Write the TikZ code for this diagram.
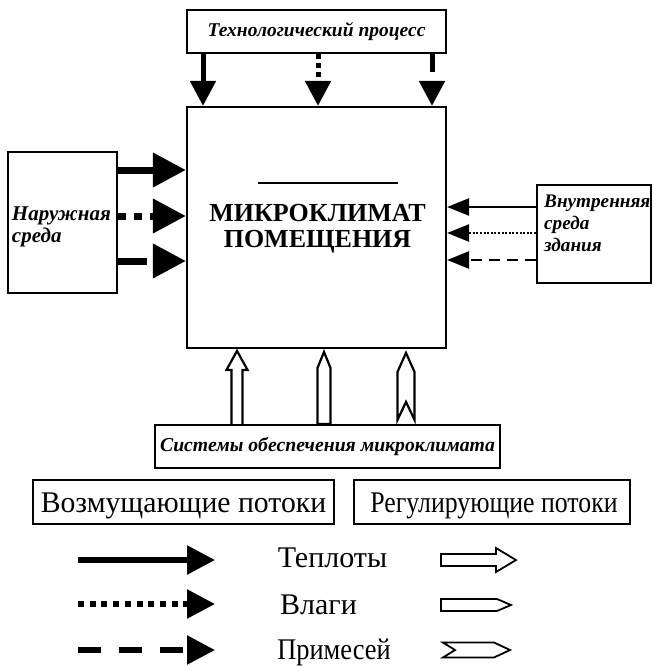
\documentclass[tikz,border=0pt]{standalone}
\usepackage{fontspec}
\setmainfont{Liberation Serif}
\usetikzlibrary{arrows.meta}
\newcommand\myfs[2]{\fontsize{#1}{#2}\selectfont}
\begin{document}
\begin{tikzpicture}[x=1pt,y=-1pt,
  box/.style={draw, line width=2.2pt, inner sep=0pt},
  bi/.style={font=\myfs{19.5}{23}\bfseries\itshape},
  fat/.style={line width=7pt, -{Triangle[length=33pt,width=33pt]}},
  mid/.style={line width=5pt, -{Triangle[length=25pt,width=25pt]}},
  thin/.style={line width=2.5pt, -{Triangle[length=22pt,width=17pt]}},
  leg/.style={line width=5.5pt, -{Triangle[length=28pt,width=28pt]}},
  hollow/.style={draw, line width=2.2pt, fill=white, line join=miter},
  legtxt/.style={font=\myfs{30}{30}, inner sep=0pt, anchor=base}
]
\useasboundingbox (0,0) rectangle (653,666);

% boxes
\node[box, minimum width=259pt, minimum height=241pt] (M) at (316.5,227.5) {};
\node[align=center, inner sep=0pt, font=\myfs{26}{26}\bfseries] (Mt) at (317.5,229) {МИКРОКЛИМАТ\\ПОМЕЩЕНИЯ};
\node[box, minimum width=259pt, minimum height=43pt, bi] (T) at (316.5,31.5) {Технологический процесс};
\node[box, minimum width=109pt, minimum height=141pt] (L) at (62.5,222.5) {};
\node[text width=102pt, align=left, inner sep=0pt, font=\myfs{21}{22}\bfseries\itshape] (Lt) at (63,227) {Наружная\\среда};
\node[box, minimum width=114pt, minimum height=98pt] (R) at (594,234) {};
\node[anchor=north west, align=left, inner sep=0pt, font=\myfs{19.2}{22}\bfseries\itshape] (Rt) at (544,195) {Внутренняя\\среда\\здания};
\node[box, minimum width=345pt, minimum height=43pt, font=\myfs{19.7}{23}\bfseries\itshape] (S) at (327.5,446.5) {Системы обеспечения микроклимата};

\draw[line width=1.5pt] (258,183) -- (398,183);

% top arrows
\coordinate (t1) at (203,0);
\coordinate (t2) at (318,0);
\coordinate (t3) at (432,0);
\draw[mid] (t1 |- T.south) -- (t1 |- M.north);
\draw[mid, dash pattern=on 5pt off 4pt] (t2 |- T.south) -- (t2 |- M.north);
\draw[mid, dash pattern=on 18pt off 60pt] (t3 |- T.south) -- (t3 |- M.north);

% left arrows
\coordinate (l1) at (0,170);
\coordinate (l2) at (0,216);
\coordinate (l3) at (0,261);
\draw[fat] (L.east |- l1) -- (M.west |- l1);
\draw[fat, dash pattern=on 8pt off 8pt] (L.east |- l2) -- (M.west |- l2);
\draw[fat, dash pattern=on 29pt off 60pt] (L.east |- l3) -- (M.west |- l3);

% right arrows
\coordinate (r1) at (0,207);
\coordinate (r2) at (0,233);
\coordinate (r3) at (0,260);
\draw[thin] (R.west |- r1) -- (M.east |- r1);
\draw[thin, dash pattern=on 2pt off 1.6pt] (R.west |- r2) -- (M.east |- r2);
\draw[thin, dash pattern=on 11pt off 7pt] (R.west |- r3) -- (M.east |- r3);

% bottom hollow arrows
\coordinate (b1) at (237,0);
\coordinate (b2) at (324,0);
\coordinate (b3) at (406,0);
\draw[hollow, shift={(b1 |- S.north)}] (-5.5,0) -- (-5.5,-54) -- (-10.5,-54) -- (0,-73) -- (10.5,-54) -- (5.5,-54) -- (5.5,0);
\draw[hollow, shift={(b2 |- S.north)}] (-6.5,0) -- (-6.5,-56) -- (0,-72) -- (6.5,-56) -- (6.5,0) -- cycle;
\draw[hollow, shift={(b3 |- S.north)}] (-8.5,-4) -- (-8.5,-52) -- (0,-71) -- (8.5,-52) -- (8.5,-4) -- (0,-22) -- cycle;

% legend
\node[box, minimum width=301pt, minimum height=44pt] (D) at (183.5,502) {};
\node[box, minimum width=276pt, minimum height=44pt] (G) at (492,502) {};
\node[legtxt] (Dt) at (183.5,512) {\scalebox{0.99}[1]{Возмущающие потоки}};
\node[legtxt] (Gt) at (494,512) {\scalebox{0.86}[1]{Регулирующие потоки}};

\node[legtxt] (h) at (332.5,567) {Теплоты};
\node[legtxt] (v) at (318.5,614) {Влаги};
\node[legtxt] (p) at (334,659) {\scalebox{0.88}[1]{Примесей}};

\coordinate (a1s) at (78,560);  \coordinate (a1e) at (215,560);
\coordinate (a2s) at (78,604);  \coordinate (a2e) at (215,604);
\coordinate (a3s) at (78,650);  \coordinate (a3e) at (215,650);
\draw[leg] (a1s) -- (a1e);
\draw[leg, dash pattern=on 6pt off 5.7pt] (a2s) -- (a2e);
\draw[leg, dash pattern=on 23pt off 18pt] (a3s) -- (a3e);

\coordinate (c1) at (441,560);
\coordinate (c2) at (441,605);
\coordinate (c3) at (443,650);
\draw[hollow, line width=1.8pt, shift={(c1)}] (0,-6) -- (55,-6) -- (55,-12) -- (75,0) -- (55,12) -- (55,6) -- (0,6) -- cycle;
\draw[hollow, line width=1.8pt, shift={(c2)}] (0,-6) -- (56,-6) -- (70,0) -- (56,6) -- (0,6) -- cycle;
\draw[hollow, line width=1.8pt, shift={(c3)}] (0,-7.5) -- (51,-7.5) -- (67,0) -- (51,7.5) -- (0,7.5) -- (12,0) -- cycle;
\end{tikzpicture}
\end{document}
